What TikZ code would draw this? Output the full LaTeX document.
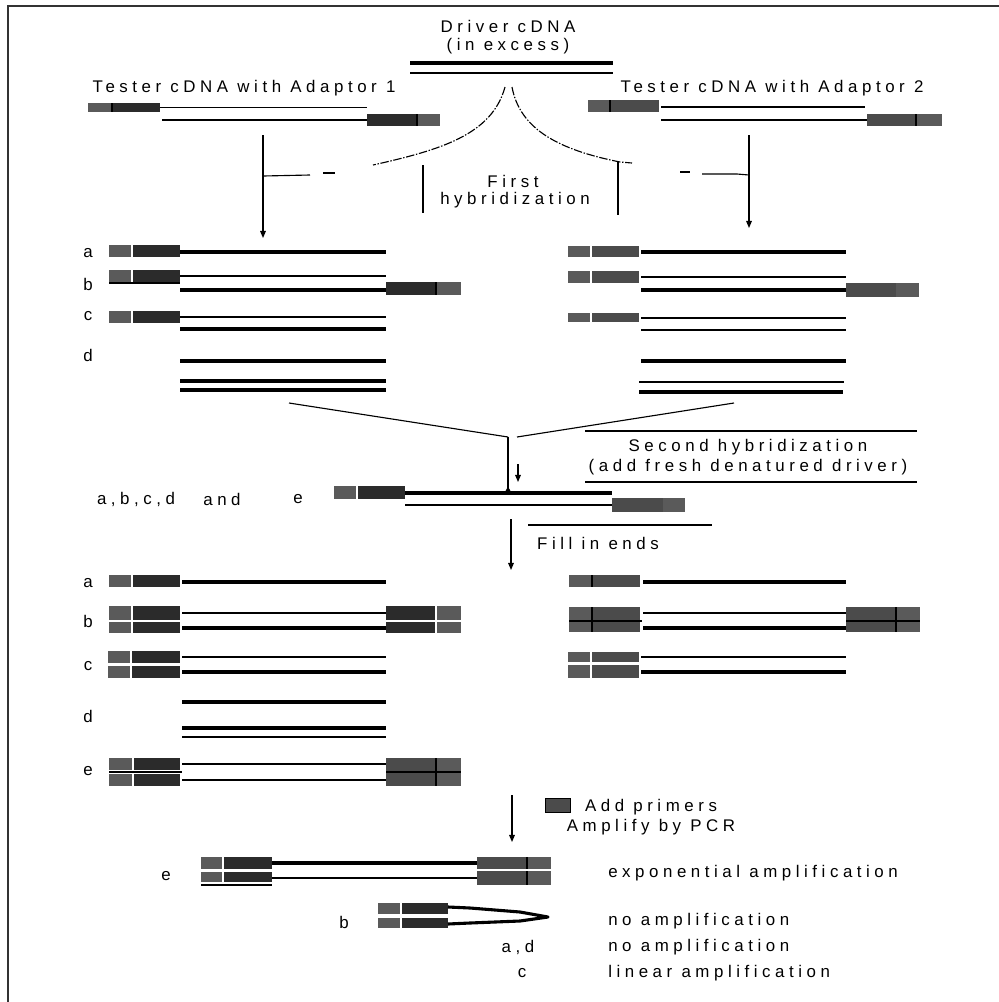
\documentclass[tikz,border=0pt]{standalone}
\usepackage{fontspec}
\setmainfont{Liberation Sans}
\newfontfamily\spaced[LetterSpace=27]{Liberation Sans}
\usetikzlibrary{arrows.meta}

\definecolor{adlight}{HTML}{5A5A5A}
\definecolor{addark}{HTML}{2B2B2B}
\definecolor{admid}{HTML}{4B4B4B}

\tikzset{
	lab/.style={font=\fontsize{12}{14}\spaced, inner sep=0pt},
	thickdna/.style={line width=2.2pt},
	meddna/.style={line width=1.5pt},
	thindna/.style={line width=1pt},
	flow/.style={line width=0.8pt, -{Triangle[length=5pt,width=4pt]}},
	hybline/.style={line width=0.8pt, dash pattern=on 6pt off 1.2pt on 1pt off 1.2pt},
}

% adaptor: x1, x2, x3, top, bottom, first colour, second colour, separator
\newcommand{\dnaadaptor}[8]{
	\fill[#6] (#1,#4) rectangle (#2,#5);
	\fill[#7] (#2,#4) rectangle (#3,#5);
	\draw[#8, line width=0.8pt] (#2,#4) -- (#2,#5);
}

\begin{document}
\begin{tikzpicture}[x=0.025cm, y=-0.025cm]
	\useasboundingbox (0,0) rectangle (999,1002);
	\draw[line width=1.4pt, black!80] (8,1002) -- (8,6) -- (999,6);
	
	% driver and testers
	\node[lab] (drv) at (508,26) {Driver cDNA};
	\node[lab] (exc) at (508,46) {(in excess)};
	\draw[thickdna] (410,63) -- (613,63);
	\draw[meddna] (410,73) -- (613,73);
	
	\node[lab] (tstA) at (244,88) {Tester cDNA with Adaptor 1};
	\dnaadaptor{88}{112}{160}{103}{112}{adlight}{addark}{black}
	\draw[thindna] (160,107.5) -- (367,107.5);
	\draw[thindna] (162,120) -- (367,120);
	\dnaadaptor{367}{417}{440}{114}{126}{addark}{adlight}{black}
	
	\node[lab] (tstB) at (772,88) {Tester cDNA with Adaptor 2};
	\dnaadaptor{588}{610}{659}{100}{112}{adlight}{admid}{black}
	\draw[meddna] (661,107) -- (865,107);
	\draw[thindna] (661,120) -- (867,120);
	\dnaadaptor{867}{916}{942}{114}{126}{admid}{adlight}{black}
	
	% first hybridization
	\coordinate (drvL) at (505,87);
	\coordinate (drvR) at (512,87);
	\coordinate (inA) at (263,135);
	\coordinate (outA) at (263,238);
	\coordinate (inB) at (749,135);
	\coordinate (outB) at (749,228);
	\draw[hybline] (drvL) .. controls (492,135) and (440,150) .. (373,165);
	\draw[hybline] (drvR) .. controls (520,130) and (560,150) .. (620,162) -- (632,163);
	\draw[line width=0.8pt] (323,173) -- (335,173);
	\draw[line width=0.8pt] (263,176) -- (310,175);
	\draw[line width=0.8pt] (680,172) -- (690,172);
	\draw[line width=0.8pt] (702,174) -- (737,174) -- (749,175);
	\draw[flow] (inA) -- (outA);
	\draw[flow] (inB) -- (outB);
	\draw[line width=0.8pt] (423,165) -- (423,213);
	\draw[line width=0.8pt] (618,162) -- (618,215);
	\node[lab] (first) at (513,181) {First};
	\node[lab] (hyb) at (515,200) {hybridization};
	
	% products, first round
	\node[lab] (a1) at (88,253) {a};
	\node[lab] (b1) at (88,284) {b};
	\node[lab] (c1) at (88,316) {c};
	\node[lab] (d1) at (88,355) {d};
	
	\dnaadaptor{109}{132}{180}{245}{257}{adlight}{addark}{white}
	\draw[thickdna] (180,252) -- (386,252);
	\dnaadaptor{109}{132}{180}{270}{282}{adlight}{addark}{white}
	\draw[line width=0.8pt] (109,283) -- (180,283);
	\draw[meddna] (180,276) -- (386,276);
	\draw[thickdna] (180,290) -- (386,290);
	\dnaadaptor{386}{436}{461}{282}{295}{addark}{adlight}{black}
	\dnaadaptor{109}{132}{180}{311}{323}{adlight}{addark}{white}
	\draw[thindna] (180,317) -- (386,317);
	\draw[thickdna] (180,329) -- (386,329);
	\draw[thickdna] (180,361) -- (386,361);
	\draw[thickdna] (180,381) -- (386,381);
	\draw[thickdna] (180,390) -- (386,390);
	
	\dnaadaptor{568}{591}{639}{246}{257}{adlight}{admid}{white}
	\draw[thickdna] (641,252) -- (846,252);
	\dnaadaptor{568}{591}{639}{271}{283}{adlight}{admid}{white}
	\draw[thindna] (641,277) -- (846,277);
	\draw[thickdna] (641,290) -- (846,290);
	\dnaadaptor{846}{895}{919}{283}{297}{admid}{adlight}{admid}
	\dnaadaptor{568}{591}{639}{313}{322}{adlight}{admid}{white}
	\draw[thindna] (641,318) -- (846,318);
	\draw[thindna] (641,330) -- (846,330);
	\draw[thickdna] (641,361) -- (846,361);
	\draw[thindna] (639,382) -- (844,382);
	\draw[thickdna] (639,392) -- (843,392);
	
	% second hybridization
	\coordinate (joinL) at (508,437);
	\coordinate (joinR) at (517,437);
	\coordinate (tipR) at (518,464);
	\coordinate (tipRend) at (518,482);
	\draw[line width=0.8pt] (289,403) -- (joinL);
	\draw[line width=0.8pt, -{Triangle[reversed,length=4pt,width=4pt]}] (joinL) -- (508,492);
	\draw[line width=0.8pt] (734,403) -- (joinR);
	\draw[flow] (tipR) -- (tipRend);
	\draw[line width=0.8pt] (585,431) -- (917,431);
	\draw[line width=0.8pt] (585,482) -- (917,482);
	\node[lab] (sec) at (748,447) {Second hybridization};
	\node[lab] (fresh) at (748,467) {(add fresh denatured driver)};
	
	\node[lab] (abcd) at (136,499) {a,b,c,d};
	\node[lab] (and) at (222,499) {and};
	\node[lab] (e0) at (298,499) {e};
	\dnaadaptor{334}{357}{405}{486}{499}{adlight}{addark}{white}
	\draw[thickdna] (405,493) -- (612,493);
	\draw[meddna] (405,505) -- (612,505);
	\dnaadaptor{612}{662}{685}{498}{512}{admid}{adlight}{admid}
	
	% fill in ends
	\coordinate (fillIn) at (511,519);
	\coordinate (fillOut) at (511,570);
	\draw[line width=0.8pt] (528,525) -- (712,525);
	\node[lab] (fill) at (598,543) {Fill in ends};
	\draw[flow] (fillIn) -- (fillOut);
	
	% products, second round
	\node[lab] (a2) at (88,583) {a};
	\node[lab] (b2) at (88,621) {b};
	\node[lab] (c2) at (88,666) {c};
	\node[lab] (d2) at (88,716) {d};
	\node[lab] (e2) at (88,771) {e};
	
	\dnaadaptor{109}{132}{180}{575}{587}{adlight}{addark}{white}
	\draw[thickdna] (182,582) -- (386,582);
	\dnaadaptor{109}{132}{180}{606}{620}{adlight}{addark}{white}
	\dnaadaptor{109}{132}{180}{622}{633}{adlight}{addark}{white}
	\draw[meddna] (182,613) -- (386,613);
	\draw[thickdna] (182,628) -- (386,628);
	\dnaadaptor{386}{436}{461}{606}{620}{addark}{adlight}{white}
	\dnaadaptor{386}{436}{461}{622}{633}{addark}{adlight}{white}
	\dnaadaptor{108}{131}{180}{651}{663}{adlight}{addark}{white}
	\dnaadaptor{108}{131}{180}{666}{678}{adlight}{addark}{white}
	\draw[thindna] (182,657) -- (386,657);
	\draw[thickdna] (182,672) -- (386,672);
	\draw[thickdna] (182,702) -- (386,702);
	\draw[thickdna] (182,728) -- (386,728);
	\draw[thindna] (182,737) -- (386,737);
	\dnaadaptor{109}{133}{180}{758}{770}{adlight}{addark}{white}
	\dnaadaptor{109}{133}{180}{774}{786}{adlight}{addark}{white}
	\draw[meddna] (109,772) -- (182,772);
	\draw[meddna] (182,764) -- (386,764);
	\draw[meddna] (182,780) -- (386,780);
	\dnaadaptor{386}{436}{461}{758}{786}{admid}{adlight}{black}
	\draw[meddna] (386,772) -- (461,772);
	
	\dnaadaptor{569}{592}{640}{575}{587}{adlight}{admid}{black}
	\draw[thickdna] (643,582) -- (846,582);
	\dnaadaptor{569}{592}{640}{607}{632}{adlight}{admid}{black}
	\draw[meddna] (569,621) -- (642,621);
	\draw[meddna] (643,613) -- (846,613);
	\draw[thickdna] (643,628) -- (846,628);
	\dnaadaptor{846}{896}{920}{607}{632}{admid}{adlight}{black}
	\draw[meddna] (846,621) -- (920,621);
	\dnaadaptor{568}{591}{639}{652}{662}{adlight}{admid}{white}
	\dnaadaptor{568}{591}{639}{665}{678}{adlight}{admid}{white}
	\draw[thindna] (641,657) -- (846,657);
	\draw[thickdna] (641,672) -- (846,672);
	
	% PCR
	\coordinate (pcrIn) at (512,795);
	\coordinate (pcrOut) at (512,842);
	\draw[flow] (pcrIn) -- (pcrOut);
	\draw[fill=admid, line width=0.6pt] (545,798) rectangle (570,812);
	\node[lab] (prim) at (651,807) {Add primers};
	\node[lab] (amp) at (651,827) {Amplify by PCR};
	
	\node[lab] (e3) at (166,876) {e};
	\dnaadaptor{201}{223}{272}{857}{869}{adlight}{addark}{white}
	\dnaadaptor{201}{223}{272}{872}{882}{adlight}{addark}{white}
	\draw[line width=0.8pt] (201,885) -- (272,885);
	\draw[thickdna] (272,863) -- (477,863);
	\draw[meddna] (272,878) -- (477,878);
	\dnaadaptor{477}{527}{551}{857}{885}{admid}{adlight}{black}
	\draw[line width=0.8pt, white] (477,870) -- (551,870);
	\node[lab, anchor=west] (expo) at (608,873) {exponential amplification};
	
	\node[lab] (b3) at (344,922) {b};
	\dnaadaptor{378}{401}{448}{903}{914}{adlight}{addark}{white}
	\dnaadaptor{378}{401}{448}{918}{928}{adlight}{addark}{white}
	\draw[thickdna, line join=round] (448,907) -- (470,908) -- (520,912) -- (548,917) -- (520,921) -- (470,923) -- (448,924);
	\node[lab, anchor=west] (noampB) at (608,921) {no amplification};
	
	\node[lab] (ad3) at (518,947) {a,d};
	\node[lab, anchor=west] (noampAD) at (608,947) {no amplification};
	\node[lab] (c3) at (522,973) {c};
	\node[lab, anchor=west] (lin) at (608,973) {linear amplification};
\end{tikzpicture}
\end{document}
